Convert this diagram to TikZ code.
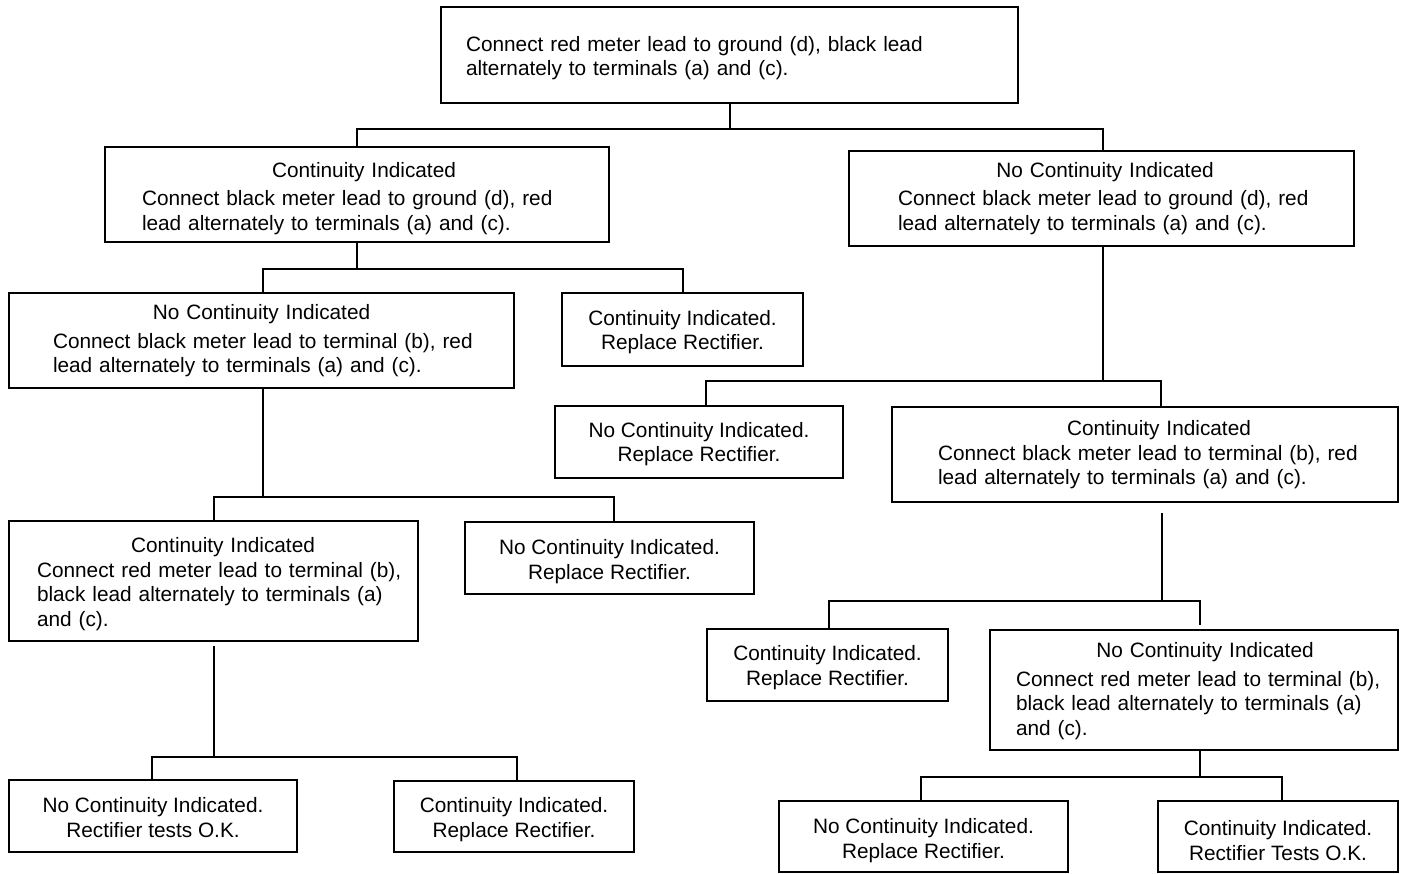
\documentclass[tikz,border=0pt]{standalone}
\usepackage{fontspec}
\setmainfont{Liberation Sans}
\newcommand\ttl[2][0pt]{\hbox to\hsize{\hss\kern#1 #2\hss}}
\tikzset{
  frame/.style={draw, line width=2pt, rectangle, inner sep=0pt},
  txt/.style={inner sep=0pt, font=\fontsize{20.8}{24.5}\selectfont},
  ltxt/.style={txt, align=left},
  ctxt/.style={txt, align=center},
  conn/.style={line width=2pt},
}
\begin{document}
\begin{tikzpicture}[x=1pt, y=-1pt]
\useasboundingbox (0,0) rectangle (1405,873);
% frames
\node[frame, minimum width=577pt, minimum height=96pt] (top) at (729.5,55) {};
\node[frame, minimum width=504pt, minimum height=95pt] (L1) at (357,194.5) {};
\node[frame, minimum width=505pt, minimum height=95pt] (R1) at (1101.5,198.5) {};
\node[frame, minimum width=505pt, minimum height=95pt] (L2a) at (261.5,340.5) {};
\node[frame, minimum width=241pt, minimum height=73pt] (L2b) at (682.5,329.5) {};
\node[frame, minimum width=288pt, minimum height=72pt] (R2a) at (699,442) {};
\node[frame, minimum width=506pt, minimum height=95pt] (R2b) at (1145,454.5) {};
\node[frame, minimum width=409pt, minimum height=120pt] (L3a) at (213.5,581) {};
\node[frame, minimum width=289pt, minimum height=72pt] (L3b) at (609.5,558) {};
\node[frame, minimum width=241pt, minimum height=72pt] (R3a) at (827.5,665) {};
\node[frame, minimum width=408pt, minimum height=120pt] (R3b) at (1194,690) {};
\node[frame, minimum width=288pt, minimum height=72pt] (L4a) at (153,816) {};
\node[frame, minimum width=240pt, minimum height=71pt] (L4b) at (514,816.5) {};
\node[frame, minimum width=289pt, minimum height=71pt] (R4a) at (923.5,836.5) {};
\node[frame, minimum width=240pt, minimum height=71pt] (R4b) at (1278,836.5) {};
% texts
\node[ltxt, text width=527pt] (topT) at ([yshift=-3pt]top.center)
  {\mbox{Connect red meter lead to ground (d), black lead}\\\mbox{alternately to terminals (a) and (c).}};
\node[ltxt, text width=430pt] (L1T) at ([yshift=-4pt]L1.center)
  {\ttl[14pt]{Continuity Indicated}\\[4pt]\mbox{Connect black meter lead to ground (d), red}\\\mbox{lead alternately to terminals (a) and (c).}};
\node[ltxt, text width=407pt] (R1T) at (R1.center)
  {\ttl[7pt]{No Continuity Indicated}\\[4pt]\mbox{Connect black meter lead to ground (d), red}\\\mbox{lead alternately to terminals (a) and (c).}};
\node[ltxt, text width=417pt] (L2aT) at (L2a.center)
  {\ttl{No Continuity Indicated}\\[4.5pt]\mbox{Connect black meter lead to terminal (b), red}\\\mbox{lead alternately to terminals (a) and (c).}};
\node[ctxt] (L2bT) at ([yshift=-2.5pt]L2b.center) {Continuity Indicated.\\Replace Rectifier.};
\node[ctxt] (R2aT) at ([yshift=-2pt]R2a.center) {No Continuity Indicated.\\Replace Rectifier.};
\node[ltxt, text width=414pt] (R2bT) at ([yshift=-0.5pt]R2b.center)
  {\ttl[28pt]{Continuity Indicated}\\\mbox{Connect black meter lead to terminal (b), red}\\\mbox{lead alternately to terminals (a) and (c).}};
\node[ltxt, text width=353pt] (L3aT) at ([yshift=-3pt]L3a.center)
  {\ttl[19pt]{Continuity Indicated}\\\mbox{Connect red meter lead to terminal (b),}\\\mbox{black lead alternately to terminals (a)}\\and (c).};
\node[ctxt] (L3bT) at ([yshift=-3.5pt]L3b.center) {No Continuity Indicated.\\Replace Rectifier.};
\node[ctxt] (R3aT) at ([yshift=-2.5pt]R3a.center) {Continuity Indicated.\\Replace Rectifier.};
\node[ltxt, text width=356pt] (R3bT) at ([yshift=-1pt]R3b.center)
  {\ttl[22pt]{No Continuity Indicated}\\[4pt]\mbox{Connect red meter lead to terminal (b),}\\\mbox{black lead alternately to terminals (a)}\\and (c).};
\node[ctxt] (L4aT) at ([yshift=-1.5pt]L4a.center) {No Continuity Indicated.\\Rectifier tests O.K.};
\node[ctxt] (L4bT) at ([yshift=-3pt]L4b.center) {Continuity Indicated.\\Replace Rectifier.};
\node[ctxt] (R4aT) at ([yshift=-4pt]R4a.center) {No Continuity Indicated.\\Replace Rectifier.};
\node[ctxt] (R4bT) at ([yshift=-4pt]R4b.center) {Continuity Indicated.\\Rectifier Tests O.K.};
% connectors
\draw[conn] (top.south) -- ++(0,25) coordinate (j0);
\draw[conn] (L1.north) |- (j0) -| ([xshift=1.5pt]R1.north);
\draw[conn] (L1.south) -- ++(0,26) coordinate (j1);
\draw[conn] ([xshift=1.5pt]L2a.north) |- (j1) -| (L2b.north);
\draw[conn] ([xshift=1.5pt]R1.south) -- ++(0,134) coordinate (j2);
\draw[conn] ([xshift=7pt]R2a.north) |- (j2) -| ([xshift=16pt]R2b.north);
\draw[conn] ([xshift=1.5pt]L2a.south) -- ++(0,108) coordinate (j3);
\draw[conn] (L3a.north) |- (j3) -| ([xshift=4.5pt]L3b.north);
\draw[conn] ([xshift=17pt,yshift=-10pt]R2b.south) -- ++(0,88) coordinate (j4);
\draw[conn] ([xshift=1pt]R3a.north) |- (j4) -| ([xshift=6pt,yshift=4pt]R3b.north);
\draw[conn] ([yshift=-4pt]L3a.south) -- ++(0,111) coordinate (j5);
\draw[conn] ([xshift=-1pt]L4a.north) |- (j5) -| ([xshift=2.5pt]L4b.north);
\draw[conn] ([xshift=6pt]R3b.south) -- ++(0,26) coordinate (j6);
\draw[conn] ([xshift=-2.5pt]R4a.north) |- (j6) -| ([xshift=4pt]R4b.north);
\end{tikzpicture}
\end{document}
